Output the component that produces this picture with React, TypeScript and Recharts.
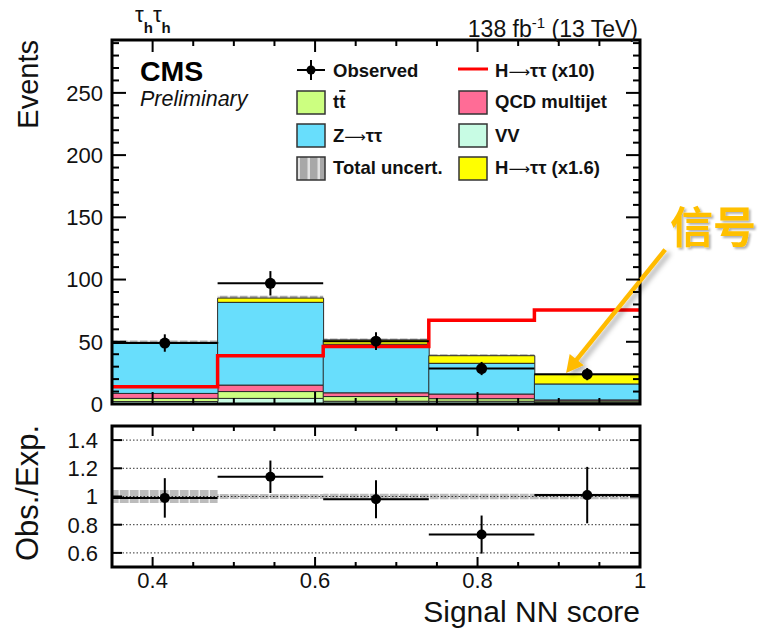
import React from "react";
import {
  ComposedChart,
  Bar,
  Area,
  Line,
  Scatter,
  ErrorBar,
  XAxis,
  YAxis,
  ReferenceArea,
  ReferenceLine,
} from "recharts";

// NN score binning
const bins = ["0.35-0.48", "0.48-0.61", "0.61-0.74", "0.74-0.87", "0.87-1.00"];
const binEdges = [0.35, 0.48, 0.61, 0.74, 0.87, 1.0];
const binCenters = [0.415, 0.545, 0.675, 0.805, 0.935];
const binHalfWidth = 0.065;

// stacked expectation, bottom to top
const vv = [2.0, 4.5, 2.2, 2.2, 1.5];
const ttbar = [2.5, 5.5, 3.8, 2.1, 1.0];
const qcd = [4.0, 5.2, 3.0, 3.7, 0.8];
const ztt = [40.2, 66.5, 39.0, 24.7, 12.8];
const higgsX16 = [0.8, 3.4, 3.5, 6.1, 7.5];
const totalUnc = [1.6, 1.8, 1.1, 1.1, 0.5];

// signal overlay (x10)
const higgsX10 = [13.9, 38.8, 46.2, 67.3, 75.5];

// data
const observed = [49, 97, 50.5, 28.5, 24];
const observedErr = [7, 9.8, 7.1, 5.3, 4.9];

// ratio panel
const ratio = [0.99, 1.14, 0.98, 0.73, 1.01];
const ratioErr = [0.14, 0.115, 0.135, 0.135, 0.2];
const ratioUnc = [0.046, 0.018, 0.02, 0.02, 0.02];

const mainYTicks = [
  0, 10, 20, 30, 40, 50, 60, 70, 80, 90, 100, 110, 120, 130, 140, 150, 160,
  170, 180, 190, 200, 210, 220, 230, 240, 250, 260, 270, 280, 290,
];
const ratioYTicks = [0.6, 0.8, 1, 1.2, 1.4];
const ratioGrid = [0.6, 0.8, 1, 1.2, 1.4];
const xTicks = [0.4, 0.45, 0.5, 0.55, 0.6, 0.65, 0.7, 0.75, 0.8, 0.85, 0.9, 0.95, 1];

const X_DOMAIN: [number, number] = [0.35, 1];
const MAIN_Y: [number, number] = [0, 292.5];
const RATIO_Y: [number, number] = [0.5, 1.5];

// panel geometry (page pixels)
const W = 761;
const MAIN_H = 420;
const RATIO_H = 208;
const LEFT_W = 112;
const RIGHT_W = 121;
const MAIN_TOP = 40;
const MAIN_BOTTOM = 16;
const RATIO_TOP = 6;
const RATIO_BOTTOM = 61;

const FONT = "'Liberation Sans', Arial, Helvetica, sans-serif";
const C = {
  vv: "#c8fce4",
  tt: "#ccff80",
  qcd: "#ff6c96",
  ztt: "#68defc",
  hsig: "#ffff00",
  sig10: "#ff0000",
  outline: "#2a2a2a",
  note: "#ffbb00",
};

const stackRows = bins.map((bin, i) => ({
  bin,
  vv: vv[i],
  tt: ttbar[i],
  qcd: qcd[i],
  ztt: ztt[i],
  hsig: higgsX16[i],
}));

const totals = bins.map((_, i) => vv[i] + ttbar[i] + qcd[i] + ztt[i] + higgsX16[i]);

// histogram steps need one point per edge; the last edge repeats the last bin
const mainStepRows = binEdges.map((x, i) => {
  const k = Math.min(i, bins.length - 1);
  return {
    x,
    unc: [totals[k] - totalUnc[k], totals[k] + totalUnc[k]],
    sig10: higgsX10[k],
  };
});

const ratioStepRows = binEdges.map((x, i) => {
  const k = Math.min(i, bins.length - 1);
  return { x, band: [1 - ratioUnc[k], 1 + ratioUnc[k]] };
});

const obsRows = binCenters.map((x, i) => ({
  x,
  y: observed[i],
  ex: binHalfWidth,
  ey: observedErr[i],
}));

const ratioRows = binCenters.map((x, i) => ({
  x,
  y: ratio[i],
  ex: binHalfWidth,
  ey: ratioErr[i],
}));

const isMajorX = (v: number) => Math.abs(v * 5 - Math.round(v * 5)) < 1e-6;
const fmt = (v: number) => (Number.isInteger(v) ? String(v) : v.toFixed(1));

// y ticks point into the frame, ROOT style
const leftTick = (margin: number, isMajor: (v: number) => boolean, majorLen: number, minorLen: number) =>
  (p: any) => {
    const v = p.payload.value;
    const major = isMajor(v);
    const edge = p.x + margin;
    return (
      <g>
        <line x1={edge} x2={edge + (major ? majorLen : minorLen)} y1={p.y} y2={p.y} stroke="#000" strokeWidth={2} />
        {major && (
          <text x={p.x} y={p.y} dy="0.36em" textAnchor="end" fontSize={22} fontFamily={FONT} fill="#111">
            {fmt(v)}
          </text>
        )}
      </g>
    );
  };

const rightTick = (isMajor: (v: number) => boolean, majorLen: number, minorLen: number) => (p: any) => {
  const major = isMajor(p.payload.value);
  return <line x1={p.x} x2={p.x - (major ? majorLen : minorLen)} y1={p.y} y2={p.y} stroke="#000" strokeWidth={2} />;
};

const xLabel = (p: any) => {
  const v = p.payload.value;
  if (!isMajorX(v)) return <g />;
  return (
    <text x={p.x} y={p.y + 15} textAnchor="middle" fontSize={22} fontFamily={FONT} fill="#111">
      {fmt(v)}
    </text>
  );
};

const mainMajor = (v: number) => v % 50 === 0;
const allMajor = () => true;

const obsDot = (r: number) => (p: any) => <circle cx={p.cx} cy={p.cy} r={r} fill="#000" />;

const ArrowShape = (p: any) => {
  const { x1, y1, x2, y2 } = p;
  const dx = x2 - x1;
  const dy = y2 - y1;
  const len = Math.hypot(dx, dy);
  const ux = dx / len;
  const uy = dy / len;
  const head = 17;
  const half = 9;
  const bx = x2 - ux * head;
  const by = y2 - uy * head;
  const nx = -uy;
  const ny = ux;
  return (
    <g filter="url(#softShadow)">
      <line x1={x1} y1={y1} x2={bx + ux * 2} y2={by + uy * 2} stroke={C.note} strokeWidth={4.5} />
      <polygon
        points={`${x2},${y2} ${bx + nx * half},${by + ny * half} ${bx - nx * half},${by - ny * half}`}
        fill={C.note}
      />
    </g>
  );
};

function MainPanel() {
  return (
    <ComposedChart
      width={W}
      height={MAIN_H}
      data={stackRows}
      margin={{ top: MAIN_TOP, right: RIGHT_W, bottom: MAIN_BOTTOM, left: LEFT_W }}
      barCategoryGap={0}
      barGap={0}
    >
      <XAxis xAxisId="cat" dataKey="bin" type="category" hide />
      <XAxis xAxisId="num" dataKey="x" type="number" domain={X_DOMAIN} hide allowDataOverflow />
      <YAxis yAxisId="left" type="number" domain={MAIN_Y} hide allowDataOverflow />

      <Bar xAxisId="cat" yAxisId="left" dataKey="vv" stackId="bkg" fill={C.vv} stroke={C.outline} strokeWidth={1} isAnimationActive={false} />
      <Bar xAxisId="cat" yAxisId="left" dataKey="tt" stackId="bkg" fill={C.tt} stroke={C.outline} strokeWidth={1} isAnimationActive={false} />
      <Bar xAxisId="cat" yAxisId="left" dataKey="qcd" stackId="bkg" fill={C.qcd} stroke={C.outline} strokeWidth={1} isAnimationActive={false} />
      <Bar xAxisId="cat" yAxisId="left" dataKey="ztt" stackId="bkg" fill={C.ztt} stroke={C.outline} strokeWidth={1} isAnimationActive={false} />
      <Bar xAxisId="cat" yAxisId="left" dataKey="hsig" stackId="bkg" fill={C.hsig} stroke={C.outline} strokeWidth={1} isAnimationActive={false} />

      <Area
        xAxisId="num"
        yAxisId="left"
        data={mainStepRows}
        dataKey="unc"
        type="stepAfter"
        stroke="none"
        fill="url(#uncHatch)"
        fillOpacity={1}
        isAnimationActive={false}
      />
      <Line
        xAxisId="num"
        yAxisId="left"
        data={mainStepRows}
        dataKey="sig10"
        type="stepAfter"
        stroke={C.sig10}
        strokeWidth={3.5}
        dot={false}
        isAnimationActive={false}
      />
      <Scatter xAxisId="num" yAxisId="left" data={obsRows} dataKey="y" shape={obsDot(5.5)} isAnimationActive={false}>
        <ErrorBar dataKey="ey" direction="y" width={0} stroke="#000" strokeWidth={2} />
        <ErrorBar dataKey="ex" direction="x" width={0} stroke="#000" strokeWidth={2} />
      </Scatter>
    </ComposedChart>
  );
}

// frame, y ticks and the callout arrow, layered over the histogram
function MainFrame() {
  return (
    <ComposedChart width={W} height={MAIN_H} data={mainStepRows} margin={{ top: MAIN_TOP, right: 0, bottom: 0, left: 0 }}>
      <XAxis
        xAxisId="num"
        dataKey="x"
        type="number"
        domain={X_DOMAIN}
        ticks={xTicks}
        interval={0}
        height={MAIN_BOTTOM}
        axisLine={false}
        tickLine={false}
        tick={false}
        allowDataOverflow
      />
      <YAxis
        yAxisId="left"
        type="number"
        domain={MAIN_Y}
        ticks={mainYTicks}
        interval={0}
        width={LEFT_W}
        axisLine={false}
        tickLine={false}
        tickSize={0}
        tickMargin={9}
        tick={leftTick(9, mainMajor, 14, 7)}
        allowDataOverflow
      />
      <YAxis
        yAxisId="right"
        orientation="right"
        type="number"
        domain={MAIN_Y}
        ticks={mainYTicks}
        interval={0}
        width={RIGHT_W}
        axisLine={false}
        tickLine={false}
        tickSize={0}
        tickMargin={0}
        tick={rightTick(mainMajor, 14, 7)}
        allowDataOverflow
      />
      <Line xAxisId="num" yAxisId="left" dataKey="sig10" stroke="none" dot={false} isAnimationActive={false} />
      <ReferenceArea
        xAxisId="num"
        yAxisId="left"
        x1={X_DOMAIN[0]}
        x2={X_DOMAIN[1]}
        y1={MAIN_Y[0]}
        y2={MAIN_Y[1]}
        fill="none"
        fillOpacity={0}
        stroke="#000"
        strokeWidth={3}
        ifOverflow="visible"
      />
      <ReferenceLine
        xAxisId="num"
        yAxisId="left"
        segment={[
          { x: 1.031, y: 124 },
          { x: 0.909, y: 25 },
        ]}
        ifOverflow="visible"
        shape={ArrowShape}
      />
    </ComposedChart>
  );
}

function RatioPanel() {
  return (
    <ComposedChart
      width={W}
      height={RATIO_H}
      data={ratioStepRows}
      margin={{ top: RATIO_TOP, right: RIGHT_W, bottom: RATIO_BOTTOM, left: LEFT_W }}
    >
      <XAxis xAxisId="num" dataKey="x" type="number" domain={X_DOMAIN} hide allowDataOverflow />
      <YAxis yAxisId="left" type="number" domain={RATIO_Y} hide allowDataOverflow />

      {ratioGrid.map((v) => (
        <ReferenceLine key={v} xAxisId="num" yAxisId="left" y={v} stroke="#333" strokeWidth={1} strokeDasharray="1.5 2" />
      ))}

      <Area
        xAxisId="num"
        yAxisId="left"
        dataKey="band"
        type="stepAfter"
        stroke="none"
        fill="url(#ratioHatch)"
        fillOpacity={1}
        isAnimationActive={false}
      />
      <Scatter xAxisId="num" yAxisId="left" data={ratioRows} dataKey="y" shape={obsDot(5)} isAnimationActive={false}>
        <ErrorBar dataKey="ey" direction="y" width={0} stroke="#000" strokeWidth={2} />
        <ErrorBar dataKey="ex" direction="x" width={0} stroke="#000" strokeWidth={2} />
      </Scatter>
    </ComposedChart>
  );
}

function RatioFrame() {
  return (
    <ComposedChart width={W} height={RATIO_H} data={ratioRows} margin={{ top: RATIO_TOP, right: 0, bottom: 0, left: 0 }}>
      <XAxis
        xAxisId="num"
        dataKey="x"
        type="number"
        domain={X_DOMAIN}
        ticks={xTicks}
        interval={0}
        height={RATIO_BOTTOM}
        axisLine={false}
        tickLine={false}
        tickSize={0}
        tickMargin={6}
        tick={xLabel}
        allowDataOverflow
      />
      <YAxis
        yAxisId="left"
        type="number"
        domain={RATIO_Y}
        ticks={ratioYTicks}
        interval={0}
        width={LEFT_W}
        axisLine={false}
        tickLine={false}
        tickSize={0}
        tickMargin={14}
        tick={leftTick(14, allMajor, 10, 5)}
        allowDataOverflow
      />
      <YAxis
        yAxisId="right"
        orientation="right"
        type="number"
        domain={RATIO_Y}
        ticks={ratioYTicks}
        interval={0}
        width={RIGHT_W}
        axisLine={false}
        tickLine={false}
        tickSize={0}
        tickMargin={0}
        tick={rightTick(allMajor, 10, 5)}
        allowDataOverflow
      />
      <Line xAxisId="num" yAxisId="left" dataKey="y" stroke="none" dot={false} isAnimationActive={false} />
      <ReferenceArea
        xAxisId="num"
        yAxisId="left"
        x1={X_DOMAIN[0]}
        x2={X_DOMAIN[1]}
        y1={RATIO_Y[0]}
        y2={RATIO_Y[1]}
        fill="none"
        fillOpacity={0}
        stroke="#000"
        strokeWidth={3}
        ifOverflow="visible"
      />
    </ComposedChart>
  );
}

function Swatch({ x, y, fill }: { x: number; y: number; fill: string }) {
  return <rect x={x} y={y} width={28} height={23} fill={fill} stroke="#333" strokeWidth={1.5} />;
}

// inward x ticks along the top and bottom edges of one panel
function EdgeTicks({ top, bottom, majorLen, minorLen }: { top: number; bottom: number; majorLen: number; minorLen: number }) {
  const plotW = W - LEFT_W - RIGHT_W;
  const toPx = (v: number) => LEFT_W + ((v - X_DOMAIN[0]) / (X_DOMAIN[1] - X_DOMAIN[0])) * plotW;
  return (
    <g stroke="#000" strokeWidth={2}>
      {xTicks.map((v) => {
        const x = toPx(v);
        const len = isMajorX(v) ? majorLen : minorLen;
        return (
          <g key={v}>
            <line x1={x} x2={x} y1={top} y2={top + len} />
            <line x1={x} x2={x} y1={bottom} y2={bottom - len} />
          </g>
        );
      })}
    </g>
  );
}

const ARROW_FONT = "'DejaVu Sans', sans-serif";

function Overlay() {
  const lx1 = 297;
  const tx1 = 333;
  const lx2 = 459;
  const tx2 = 495;
  const legendText = { fontSize: 18.5, fontWeight: "bold" as const, fill: "#111" };
  const arrow = (
    <tspan fontFamily={ARROW_FONT} fontWeight="normal" fontSize={15}>
      ⟶
    </tspan>
  );
  return (
    <svg
      width={W}
      height={MAIN_H + RATIO_H}
      style={{ position: "absolute", left: 0, top: 0, pointerEvents: "none" }}
      fontFamily={FONT}
    >
      <defs>
        <pattern id="uncHatch" width="10" height="6" patternUnits="userSpaceOnUse">
          <rect width="10" height="6" fill="#a8a8a8" />
          <rect x="7.5" width="2.5" height="6" fill="#e2e2e2" />
        </pattern>
        <pattern id="ratioHatch" width="10" height="6" patternUnits="userSpaceOnUse">
          <rect width="10" height="6" fill="#bcbcbc" />
          <rect x="8.5" width="1.5" height="6" fill="#ececec" />
        </pattern>
        <filter id="softShadow" x="-30%" y="-30%" width="170%" height="170%">
          <feDropShadow dx="4" dy="3" stdDeviation="2.5" floodColor="#000" floodOpacity="0.3" />
        </filter>
        <filter id="textShadow" x="-10%" y="-10%" width="130%" height="140%">
          <feDropShadow dx="2" dy="2" stdDeviation="1.2" floodColor="#000" floodOpacity="0.3" />
        </filter>
      </defs>

      <EdgeTicks top={MAIN_TOP} bottom={MAIN_H - MAIN_BOTTOM} majorLen={12} minorLen={6} />
      <EdgeTicks top={MAIN_H + RATIO_TOP} bottom={MAIN_H + RATIO_H - RATIO_BOTTOM} majorLen={10} minorLen={5} />

      {/* channel and luminosity */}
      <text x={135} y={21.5} fontSize={22} fill="#111">
        τ<tspan dy={11} fontSize={15} fontWeight="bold">h</tspan>
        <tspan dy={-11} fontSize={22}>τ</tspan>
        <tspan dy={11} fontSize={15} fontWeight="bold">h</tspan>
      </text>
      <text x={638} y={37} fontSize={23} textAnchor="end" fill="#111">
        138 fb<tspan dy={-9} fontSize={15}>-1</tspan>
        <tspan dy={9}> (13 TeV)</tspan>
      </text>

      <text x={140} y={81} fontSize={28.5} fontWeight="bold" fill="#000">CMS</text>
      <text x={140} y={106} fontSize={21.5} fontStyle="italic" fill="#111">Preliminary</text>

      {/* axis titles */}
      <text transform="rotate(-90)" x={-40} y={38} fontSize={29} textAnchor="end" fill="#111">Events</text>
      <text transform="rotate(-90)" x={-425} y={38} fontSize={31} textAnchor="end" fill="#111">Obs./Exp.</text>
      <text x={640} y={622} fontSize={30} textAnchor="end" fill="#111">Signal NN score</text>

      {/* legend */}
      <line x1={lx1} x2={lx1 + 28} y1={70} y2={70} stroke="#000" strokeWidth={2} />
      <line x1={lx1 + 14} x2={lx1 + 14} y1={60} y2={80} stroke="#000" strokeWidth={2} />
      <circle cx={lx1 + 14} cy={70} r={4.5} fill="#000" />
      <text x={tx1} y={76.5} {...legendText}>Observed</text>

      <Swatch x={lx1} y={91} fill={C.tt} />
      <text x={tx1} y={108} {...legendText}>
        t<tspan style={{ textDecoration: "overline" }}>t</tspan>
      </text>
      <Swatch x={lx1} y={124} fill={C.ztt} />
      <text x={tx1} y={141.5} {...legendText}>Z{arrow}ττ</text>
      <Swatch x={lx1} y={157} fill="url(#uncHatch)" />
      <text x={tx1} y={174} {...legendText}>Total uncert.</text>

      <line x1={lx2 - 1} x2={lx2 + 29} y1={69} y2={69} stroke={C.sig10} strokeWidth={3} />
      <text x={tx2} y={76.5} {...legendText}>H{arrow}ττ (x10)</text>
      <Swatch x={lx2} y={91} fill={C.qcd} />
      <text x={tx2} y={108} {...legendText}>QCD multijet</text>
      <Swatch x={lx2} y={124} fill={C.vv} />
      <text x={tx2} y={141.5} {...legendText}>VV</text>
      <Swatch x={lx2} y={157} fill={C.hsig} />
      <text x={tx2} y={174} {...legendText}>H{arrow}ττ (x1.6)</text>

      {/* signal callout */}
      <text
        x={670}
        y={243}
        fontSize={43}
        fontWeight="bold"
        fill="#ffc000"
        fontFamily="'Noto Sans CJK SC', 'Noto Sans CJK JP', sans-serif"
        filter="url(#textShadow)"
      >
        信号
      </text>
    </svg>
  );
}

export default function App() {
  return (
    <div style={{ position: "absolute", left: 0, top: 0, width: W, height: MAIN_H + RATIO_H, background: "#fff" }}>
      <div style={{ position: "absolute", left: 0, top: 0 }}>
        <MainPanel />
      </div>
      <div style={{ position: "absolute", left: 0, top: 0 }}>
        <MainFrame />
      </div>
      <div style={{ position: "absolute", left: 0, top: MAIN_H }}>
        <RatioPanel />
      </div>
      <div style={{ position: "absolute", left: 0, top: MAIN_H }}>
        <RatioFrame />
      </div>
      <Overlay />
    </div>
  );
}
